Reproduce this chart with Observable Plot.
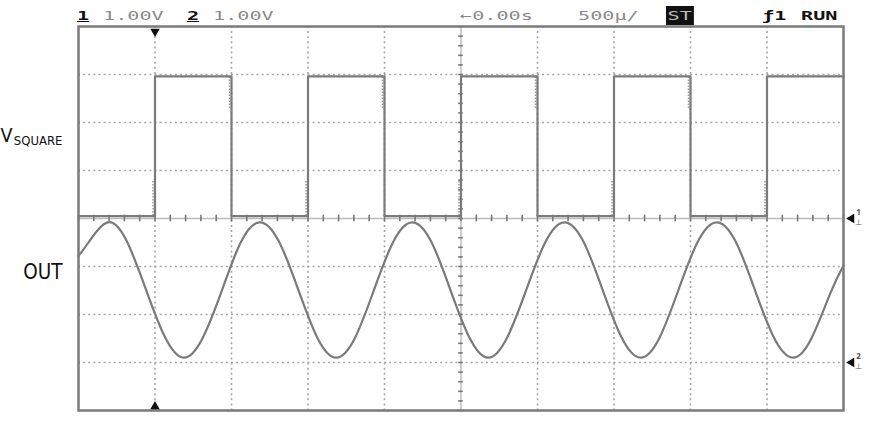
<!DOCTYPE html>
<html>
<head>
<meta charset="utf-8">
<script src="https://cdn.jsdelivr.net/npm/d3@7"></script>
<script src="https://cdn.jsdelivr.net/npm/@observablehq/plot@0.6"></script>
<style>
  html, body { margin: 0; padding: 0; background: #fff; }
  #wrap { position: relative; width: 870px; height: 424px; overflow: hidden; }
  #hdr { position: relative; width: 870px; height: 22px; }
  .h { position: absolute; top: 9px; line-height: 13px; font-family: "DejaVu Sans Mono", monospace; font-size: 13px;
       color: #8a8a8a; white-space: nowrap; transform: scaleX(1.55); transform-origin: left center; }
  .b { color: #111; font-weight: bold; }
  .box { background: #111; color: #bbb; padding: 3px 1px 3px 1px; top: 6px; }
</style>
</head>
<body>
<div id="wrap">
  <div id="hdr"></div>
  <div id="chart"></div>
</div>
<script>
// ---- header readout (text and x position in px) ----
const headerTexts = ["1", "1.00V", "2", "1.00V", "\u21900.00s", "500\u00b5/", "ST", "\u01921", "RUN"];
const headerLeft  = [77, 103, 187, 213, 460, 578, 666, 762, 801];
const headerBold  = [true, false, true, false, false, false, false, true, true];
const headerBox   = [false, false, false, false, false, false, true, false, false];

// ---- channel labels ----
const channelNames = ["SQUARE", "OUT"];
const channelOffsets = [0, -3];          // ground reference (divisions)

// ---- channel 1 : square wave (ms, V) ----
const squareTimes = [0, 0.5, 1.0, 1.5, 2.0, 2.5, 3.0, 3.5, 4.0, 4.5, 5.0];
const squareVolts = [0.05, 2.96, 0.05, 2.96, 0.05, 2.96, 0.05, 2.96, 0.05, 2.96, 2.96];

// ---- channel 2 : output (ms, V relative to its ground) ----
const outTimes = [0, 0.065, 0.19, 0.315, 0.44, 0.565, 0.688, 0.81, 0.935, 1.06,
                  1.185, 1.31, 1.435, 1.56, 1.683, 1.805, 1.93, 2.055, 2.18, 2.305,
                  2.43, 2.555, 2.678, 2.80, 2.925, 3.05, 3.175, 3.30, 3.425, 3.55,
                  3.673, 3.795, 3.92, 4.045, 4.17, 4.295, 4.42, 4.545, 4.668, 4.79,
                  4.915, 5.0];
const outVolts = [2.22, 2.50, 2.92, 2.53, 1.53, 0.53, 0.10, 0.50, 1.48, 2.50,
                  2.92, 2.52, 1.53, 0.52, 0.10, 0.50, 1.50, 2.50, 2.92, 2.52,
                  1.52, 0.52, 0.10, 0.51, 1.50, 2.50, 2.92, 2.52, 1.52, 0.52,
                  0.10, 0.50, 1.50, 2.50, 2.92, 2.52, 1.52, 0.52, 0.10, 0.50,
                  1.45, 2.02];

// ---- graticule ----
const timeDivs = [0.5, 1.0, 1.5, 2.0, 3.0, 3.5, 4.0, 4.5];
const voltDivs = [-3, -2, -1, 1, 2, 3];
const triggerTime = [0.5];

// header
const hdr = document.getElementById("hdr");
headerTexts.forEach((t, i) => {
  const s = document.createElement("span");
  s.className = "h" + (headerBold[i] ? " b" : "") + (headerBox[i] ? " box" : "");
  s.style.left = headerLeft[i] + "px";
  s.textContent = t;
  if (i === 0 || i === 2) s.style.textDecoration = "underline";
  hdr.appendChild(s);
});

const sq = squareTimes.map((t, i) => ({t, v: squareVolts[i] + channelOffsets[0]}));
const out = outTimes.map((t, i) => ({t, v: outVolts[i] + channelOffsets[1]}));
const amp = squareVolts[1] - squareVolts[0];
const edgesUp = sq.slice(1, -1).filter((d, i) => d.v > sq[i].v).map(d => ({t: d.t, lo: squareVolts[0], hi: squareVolts[0] + 0.25 * amp}));
const edgesDn = sq.slice(1, -1).filter((d, i) => d.v < sq[i].v).map(d => ({t: d.t, lo: squareVolts[1] - 0.23 * amp, hi: squareVolts[1]}));

const minorX = d3.range(0, 5.0001, 0.1);
const minorY = d3.range(-4, 4.0001, 0.2);
const trace = "#7a7a7a";
const narrow = "'Liberation Sans Narrow', 'DejaVu Sans Condensed', sans-serif";

const chart = Plot.plot({
  width: 870, height: 402,
  marginLeft: 78, marginRight: 27, marginTop: 4, marginBottom: 14,
  x: {domain: [0, 5], axis: null},
  y: {domain: [-4, 4], axis: null},
  style: {background: "white", overflow: "visible"},
  marks: [
    Plot.ruleX(timeDivs, {stroke: "#a5a5a5", strokeWidth: 1.6, strokeDasharray: "2,3.1"}),
    Plot.ruleY(voltDivs, {stroke: "#a5a5a5", strokeWidth: 1.6, strokeDasharray: "2,3.1"}),
    Plot.ruleX([2.5], {stroke: "#bbb", strokeWidth: 1.5}),
    Plot.ruleY([0], {stroke: "#bbb", strokeWidth: 1.5}),
    Plot.ruleX(minorX, {y1: -0.07, y2: 0.07, stroke: "#777", strokeWidth: 1.6}),
    Plot.ruleY(minorY, {x1: 2.485, x2: 2.515, stroke: "#777", strokeWidth: 1.6}),
    Plot.ruleX(edgesUp, {x: "t", y1: "lo", y2: "hi", dx: -2, stroke: "#999", strokeWidth: 1.5, strokeDasharray: "1.5,1.5"}),
    Plot.ruleX(edgesDn, {x: "t", y1: "lo", y2: "hi", dx: -2, stroke: "#999", strokeWidth: 1.5, strokeDasharray: "1.5,1.5"}),
    Plot.line(sq, {x: "t", y: "v", curve: "step-after", stroke: trace, strokeWidth: 2.2}),
    Plot.line(out, {x: "t", y: "v", curve: "natural", stroke: trace, strokeWidth: 2.2}),
    Plot.frame({stroke: "#7a7a7a", strokeWidth: 2.5}),
    Plot.dot(triggerTime, {x: d => d, y: 4, dy: 5, symbol: "triangle", rotate: 180, r: 3.5, fill: "#111", stroke: "none"}),
    Plot.dot(triggerTime, {x: d => d, y: -4, dy: -4, symbol: "triangle", r: 3.5, fill: "#111", stroke: "none"}),
    Plot.dot(channelOffsets, {x: 5, y: d => d, dx: 8, symbol: "triangle", rotate: -90, r: 3.5, fill: "#111", stroke: "none"}),
    Plot.text(channelOffsets, {x: 5, y: d => d, text: (d, i) => String(i + 1), dx: 15, dy: -6, fontSize: 8, fill: "#555", fontWeight: "bold"}),
    Plot.text(channelOffsets, {x: 5, y: d => d, text: () => "\u22a5", dx: 15, dy: 4, fontSize: 8, fill: "#555"}),
    Plot.text(["V"], {x: 0, y: 1.6, dx: -66, textAnchor: "end", lineAnchor: "bottom", fontSize: 19.5, fontFamily: narrow, fill: "#111"}),
    Plot.text([channelNames[0]], {x: 0, y: 1.6, dx: -16, dy: 3, textAnchor: "end", lineAnchor: "bottom", fontSize: 13, fontFamily: narrow, fill: "#111"}),
    Plot.text([channelNames[1]], {x: 0, y: -1.25, dx: -16, textAnchor: "end", lineAnchor: "bottom", fontSize: 20.5, fontFamily: narrow, fill: "#111"})
  ]
});
document.getElementById("chart").appendChild(chart);
</script>
</body>
</html>
